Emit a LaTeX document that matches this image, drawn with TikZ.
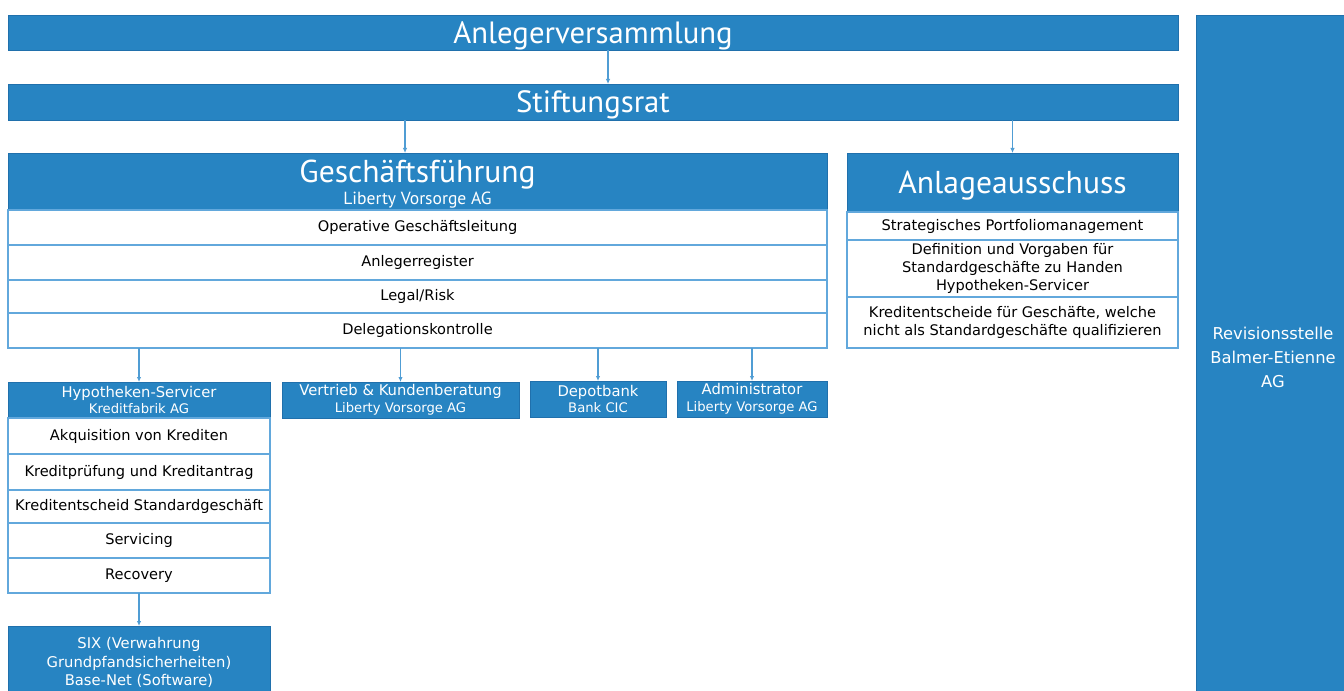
\documentclass[tikz,border=0pt]{standalone}
\usepackage{fontspec}
\setmainfont{PT Sans}
\newfontfamily\rowfont{DejaVu Sans}
\usetikzlibrary{arrows.meta}
\definecolor{orgblue}{RGB}{39,132,194}
\definecolor{edgeblue}{RGB}{32,112,172}
\definecolor{lineblue}{RGB}{98,168,220}
\newcommand{\bigtitle}{\fontsize{17.5}{19}\selectfont}
\newcommand{\subtitle}{\fontsize{10}{13}\selectfont}
\newcommand{\rowtext}{\rowfont\fontsize{8.3}{10.5}\selectfont}
\newcommand{\boxtitle}{\rowfont\fontsize{8.4}{9.5}\selectfont}
\newcommand{\boxsub}{\rowfont\fontsize{7.5}{9.4}\selectfont}
\newcommand{\revtext}{\rowfont\fontsize{9.3}{13.6}\selectfont}
\tikzset{
  unit/.style={anchor=north west, inner sep=0pt, outer sep=0pt, fill=orgblue,
    draw=edgeblue, line width=0.4pt, text=white, align=center},
  task/.style={anchor=north west, inner sep=0pt, outer sep=0pt, fill=white,
    draw=lineblue, line width=0.6pt, text=black, align=center, font=\rowtext},
  bigtext/.style={text height=15pt, text depth=3pt},
  link/.style={draw=lineblue!70!orgblue, line width=0.6pt,
    -{Latex[length=1mm,width=0.9mm]}}
}
\begin{document}
\begin{tikzpicture}[x=0.2mm, y=-0.2mm]
\clip (0,0) rectangle (1344,691);
% top levels
\node[unit, bigtext, minimum width=234mm, minimum height=7mm, font=\bigtitle] (av) at (8,15) {Anlegerversammlung};
\node[unit, bigtext, minimum width=234mm, minimum height=7.2mm, font=\bigtitle] (sr) at (8,84) {Stiftungsrat};
\node[unit, minimum width=30.8mm, minimum height=137mm, font=\revtext] (rev) at (1196,15) {Revisionsstelle\\Balmer-Etienne\\AG};
% Geschaeftsfuehrung
\node[unit, text height=28.6pt, text depth=2pt, minimum width=163.8mm, minimum height=11.4mm, font=\subtitle] (gf) at (8,153) {{\fontsize{18}{18}\selectfont Geschäftsführung}\\Liberty Vorsorge AG};
\node[task, minimum width=163.8mm, minimum height=7mm] (gf1) at (8,210) {Operative Geschäftsleitung};
\node[task, minimum width=163.8mm, minimum height=7mm] (gf2) at (8,245) {Anlegerregister};
\node[task, minimum width=163.8mm, minimum height=6.6mm] (gf3) at (8,280) {Legal/Risk};
\node[task, minimum width=163.8mm, minimum height=7mm] (gf4) at (8,313) {Delegationskontrolle};
% Anlageausschuss
\node[unit, bigtext, minimum width=66.2mm, minimum height=11.8mm, font=\fontsize{18}{20}\selectfont] (aa) at (847,153) {Anlageausschuss};
\node[task, minimum width=66.2mm, minimum height=5.6mm] (aa1) at (847,212) {Strategisches Portfoliomanagement};
\node[task, minimum width=66.2mm, minimum height=11.4mm] (aa2) at (847,240) {Definition und Vorgaben für\\Standardgeschäfte zu Handen\\Hypotheken-Servicer};
\node[task, minimum width=66.2mm, minimum height=10.2mm] (aa3) at (847,297) {Kreditentscheide für Geschäfte, welche\\nicht als Standardgeschäfte qualifizieren};
% Hypotheken-Servicer
\node[unit, minimum width=52.4mm, minimum height=7.2mm, font=\boxsub] (hs) at (8,382) {{\boxtitle Hypotheken-Servicer}\\Kreditfabrik AG};
\node[task, minimum width=52.4mm, minimum height=7.2mm] (hs1) at (8,418) {Akquisition von Krediten};
\node[task, minimum width=52.4mm, minimum height=7.2mm] (hs2) at (8,454) {Kreditprüfung und Kreditantrag};
\node[task, minimum width=52.4mm, minimum height=6.6mm] (hs3) at (8,490) {Kreditentscheid Standardgeschäft};
\node[task, minimum width=52.4mm, minimum height=7mm] (hs4) at (8,523) {Servicing};
\node[task, minimum width=52.4mm, minimum height=7mm] (hs5) at (8,558) {Recovery};
\node[unit, minimum width=52.4mm, minimum height=14.6mm, font=\rowfont\fontsize{8.4}{10.5}\selectfont] (six) at (8,626) {SIX (Verwahrung\\Grundpfandsicherheiten)\\Base-Net (Software)};
% other mandates
\node[unit, minimum width=47.4mm, minimum height=7.2mm, font=\boxsub] (vk) at (282,382) {{\boxtitle Vertrieb \& Kundenberatung}\\Liberty Vorsorge AG};
\node[unit, minimum width=27.2mm, minimum height=7.2mm, font=\boxsub] (db) at (530,381) {{\boxtitle Depotbank}\\Bank CIC};
\node[unit, minimum width=30mm, minimum height=7.2mm, font=\boxsub] (adm) at (677,381) {{\boxtitle Administrator}\\Liberty Vorsorge AG};
% connectors
\draw[link] ([xshift=3mm]av.south) -- ([xshift=3mm]sr.north);
\draw[link] ([xshift=-2.5mm]gf.north |- sr.south) -- ([xshift=-2.5mm]gf.north);
\draw[link] (aa.north |- sr.south) -- (aa.north);
\draw[link] (hs.north |- gf4.south) -- (hs.north);
\draw[link] (vk.north |- gf4.south) -- (vk.north);
\draw[link] (db.north |- gf4.south) -- (db.north);
\draw[link] (adm.north |- gf4.south) -- (adm.north);
\draw[link] (hs5.south) -- (six.north);
\end{tikzpicture}
\end{document}
